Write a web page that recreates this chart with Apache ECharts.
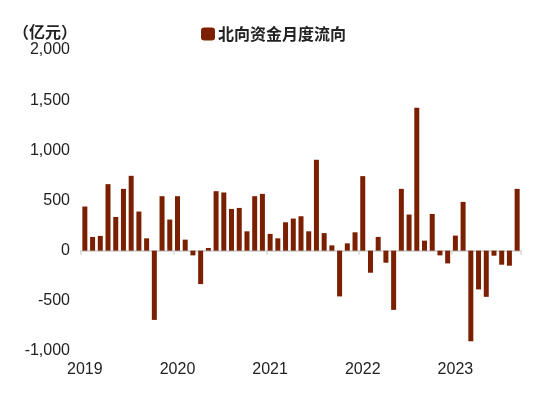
<!DOCTYPE html>
<html>
<head>
<meta charset="utf-8">
<script src="https://cdn.jsdelivr.net/npm/echarts@6/dist/echarts.min.js"></script>
<style>
html,body{margin:0;padding:0;background:#fff;}
#c{width:550px;height:395px;}
</style>
</head>
<body>
<div id="c"></div>
<script>
const years = ['2019','2020','2021','2022','2023'];
const months = [];
years.forEach(function(y){ for (let m = 1; m <= 12; m++) { if (y === '2023' && m > 9) break; months.push(y + '-' + (m < 10 ? '0' + m : m)); } });
const seriesName = '北向资金月度流向';
const unitLabel = '（亿元）';
const flows = [
  440, 137, 147, 663, 336, 616, 746, 390, 123, -690, 543, 310,
  543, 110, -47, -333, 27, 593, 580, 416, 426, 193, 543, 566,
  167, 123, 283, 320, 343, 193, 906, 175, 53, -456, 73, 183,
  743, -220, 137, -120, -590, 616, 360, 1425, 100, 366, -47, -127,
  150, 486, -903, -386, -460, -50, -140, -150, 616
];
const yTicks = {min: -1000, max: 2000, interval: 500};

const chart = echarts.init(document.getElementById('c'), null, {renderer: 'canvas'});
const textFont = "'Liberation Sans', Arial, sans-serif";
const cjkFont = "'Noto Sans CJK SC', sans-serif";
chart.setOption({
  animation: false,
  backgroundColor: '#ffffff',
  title: {
    text: unitLabel,
    left: 8, top: 19,
    textStyle: {fontSize: 16, fontWeight: 'bold', color: '#222', fontFamily: cjkFont}
  },
  legend: {
    data: [seriesName],
    left: 196, top: 21,
    icon: 'roundRect',
    itemWidth: 14, itemHeight: 13, itemGap: 4,
    textStyle: {fontSize: 16, fontWeight: 'bold', color: '#222', padding: [0,0,0,-2], fontFamily: cjkFont}
  },
  grid: {left: 81, right: 29, top: 50, bottom: 44, containLabel: false},
  xAxis: [
    {
      type: 'category', data: months, boundaryGap: true,
      axisLine: {onZero: true, lineStyle: {color: '#d9d9d9', width: 2}},
      axisTick: {show: true, interval: 11, length: 4, lineStyle: {color: '#d9d9d9', width: 1.5}},
      axisLabel: {show: false},
      splitLine: {show: false}
    },
    {
      type: 'category', data: months, boundaryGap: true, position: 'bottom',
      axisLine: {show: false, onZero: false},
      axisTick: {show: false},
      axisLabel: {
        interval: 11, margin: 11, fontSize: 16, color: '#222', fontFamily: textFont,
        formatter: function(v){ return v.slice(0,4); }
      },
      splitLine: {show: false}
    }
  ],
  yAxis: {
    type: 'value', min: yTicks.min, max: yTicks.max, interval: yTicks.interval,
    axisLine: {show: false}, axisTick: {show: false}, splitLine: {show: false},
    axisLabel: {
      margin: 11, fontSize: 16, color: '#222', fontFamily: textFont,
      formatter: function(v){ return v.toLocaleString('en-US'); }
    }
  },
  series: [{
    name: seriesName, type: 'bar', xAxisIndex: 0,
    data: flows, barWidth: 5,
    itemStyle: {color: '#7a2000'}
  }]
});
</script>
</body>
</html>
